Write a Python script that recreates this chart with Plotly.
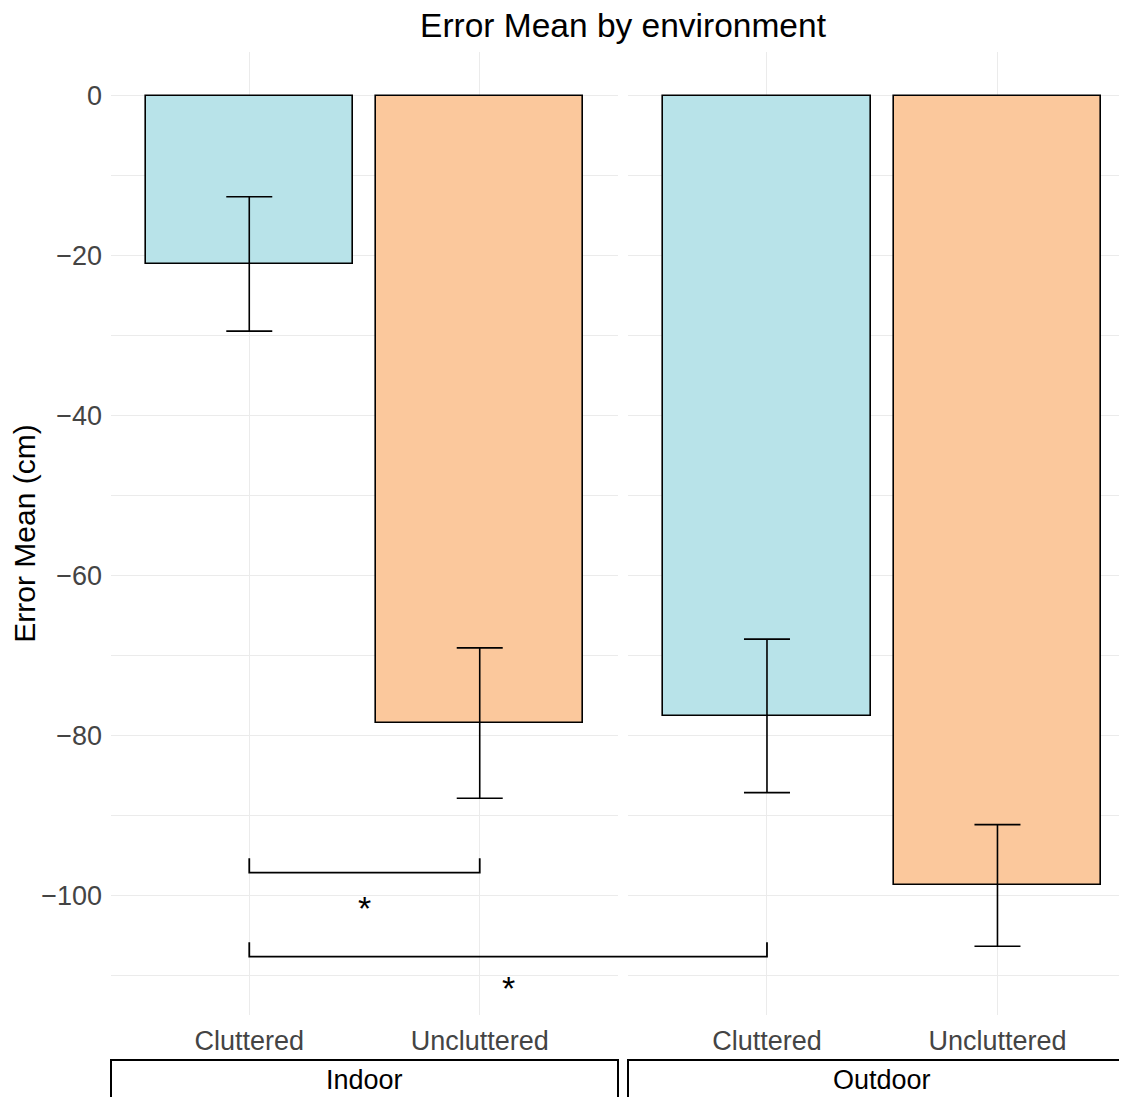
import plotly.graph_objects as go

# ---- data ----
environments = ["Indoor", "Outdoor"]
conditions = ["Cluttered", "Uncluttered"]
indoor_means = [-21.0, -78.4]
indoor_errs = [8.4, 9.4]
outdoor_means = [-77.5, -98.7]
outdoor_errs = [9.6, 7.6]
y_ticks = [0, -20, -40, -60, -80, -100]
# significance comparisons: (env_a, cond_a, env_b, cond_b, bracket_top, bracket_line, star_y, label)
sig_pairs = [
    ("Indoor", "Cluttered", "Indoor", "Uncluttered", -95.3, -97.1, -101.5, "*"),
    ("Indoor", "Cluttered", "Outdoor", "Cluttered", -105.8, -107.6, -111.5, "*"),
]

fill_colors = {"Cluttered": "#b8e3e9", "Uncluttered": "#fbc89c"}

OFF = 8  # page body margin
W, H = 1127 - OFF, 1097 - OFF
M_L, M_T = 111 - OFF, 52 - OFF
plot_right = 1127 - OFF
plot_bottom = 1015 - OFF
M_R = W - plot_right
M_B = H - plot_bottom
plot_w = W - M_L - M_R
plot_h = H - M_T - M_B

dom_left = [0.0, 507 / plot_w]
dom_right = [517 / plot_w, 1.0]
rng_left = [-0.6, 1.6]
rng_right = [-0.603, 1.562]
y_range = [-114.9, 5.5]

FONT = "Liberation Sans, Arial, Helvetica, sans-serif"
GRID = "#ebebeb"
TXT = "#444444"

fig = go.Figure()
for env, means, errs, xa, ya in [("Indoor", indoor_means, indoor_errs, "x", "y"),
                                 ("Outdoor", outdoor_means, outdoor_errs, "x2", "y2")]:
    fig.add_trace(go.Bar(
        x=conditions, y=means, xaxis=xa, yaxis=ya, width=0.9,
        marker=dict(color=[fill_colors[c] for c in conditions],
                    line=dict(color="black", width=1.6)),
        error_y=dict(type="data", array=errs, visible=True, color="black",
                     thickness=1.6, width=23),
        showlegend=False, name=env,
    ))

axis_common = dict(showgrid=True, gridcolor=GRID, gridwidth=1.2, zeroline=False,
                   showline=False, ticks="", type="category", automargin=False,
                   tickfont=dict(family=FONT, size=27, color=TXT))
y_common = dict(range=y_range, showgrid=True, gridcolor=GRID, gridwidth=1.2,
                zeroline=False, showline=False, ticks="", automargin=False,
                tickvals=y_ticks,
                minor=dict(tickvals=[-10, -30, -50, -70, -90, -110], showgrid=True,
                           gridcolor=GRID, gridwidth=1.2),
                tickfont=dict(family=FONT, size=27, color=TXT))

fig.update_layout(
    width=W, height=H,
    margin=dict(l=M_L, r=M_R, t=M_T, b=M_B, pad=0),
    plot_bgcolor="white", paper_bgcolor="white",
    bargap=0,
    title=dict(text="Error Mean by environment", x=(623 - OFF) / W,
               xanchor="center", y=1 - (25 - OFF) / H, yanchor="middle",
               font=dict(family=FONT, size=33.5, color="black")),
    xaxis=dict(domain=dom_left, range=rng_left, anchor="y", ticklabelstandoff=7, **axis_common),
    xaxis2=dict(domain=dom_right, range=rng_right, anchor="y2", ticklabelstandoff=7, **axis_common),
    yaxis=dict(anchor="x", ticklabelstandoff=8,
               title=dict(text="Error Mean (cm)", standoff=12,
                          font=dict(family=FONT, size=30, color="black")),
               **y_common),
    yaxis2=dict(anchor="x2", matches="y", showticklabels=False, **y_common),
)


def to_paper(env, cond):
    i = conditions.index(cond)
    dom, rng = (dom_left, rng_left) if env == "Indoor" else (dom_right, rng_right)
    return dom[0] + (i - rng[0]) / (rng[1] - rng[0]) * (dom[1] - dom[0])


shapes = []
annotations = []
for ea, ca, eb, cb, top, line_y, star_y, lab in sig_pairs:
    xa = to_paper(ea, ca)
    xb = to_paper(eb, cb)
    path = f"M {xa},{top} L {xa},{line_y} L {xb},{line_y} L {xb},{top}"
    shapes.append(dict(type="path", path=path, xref="paper", yref="y",
                       line=dict(color="black", width=1.8)))
    annotations.append(dict(x=(xa + xb) / 2, y=star_y, xref="paper", yref="y",
                            text=lab, showarrow=False,
                            font=dict(family=FONT, size=34, color="black"),
                            xanchor="center", yanchor="middle"))

# facet strips at the bottom
def py(pix):
    return -((pix - OFF) - plot_bottom) / plot_h

strip_top = py(1060)
strip_bot = py(1125)
strip_text_y = py(1080)
for env, dom in [("Indoor", dom_left), ("Outdoor", [dom_right[0], 1.02])]:
    shapes.append(dict(type="rect", xref="paper", yref="paper",
                       x0=dom[0], x1=dom[1], y0=strip_bot, y1=strip_top,
                       line=dict(color="black", width=2), fillcolor="rgba(0,0,0,0)"))
    d = dom_left if env == "Indoor" else [dom_right[0], dom_right[0] + (dom_left[1] - dom_left[0])]
    annotations.append(dict(x=(d[0] + d[1]) / 2, y=strip_text_y, xref="paper", yref="paper",
                            text=env, showarrow=False,
                            font=dict(family=FONT, size=27, color="black"),
                            xanchor="center", yanchor="middle"))

fig.update_layout(shapes=shapes, annotations=annotations)
fig.write_html("out.html")
